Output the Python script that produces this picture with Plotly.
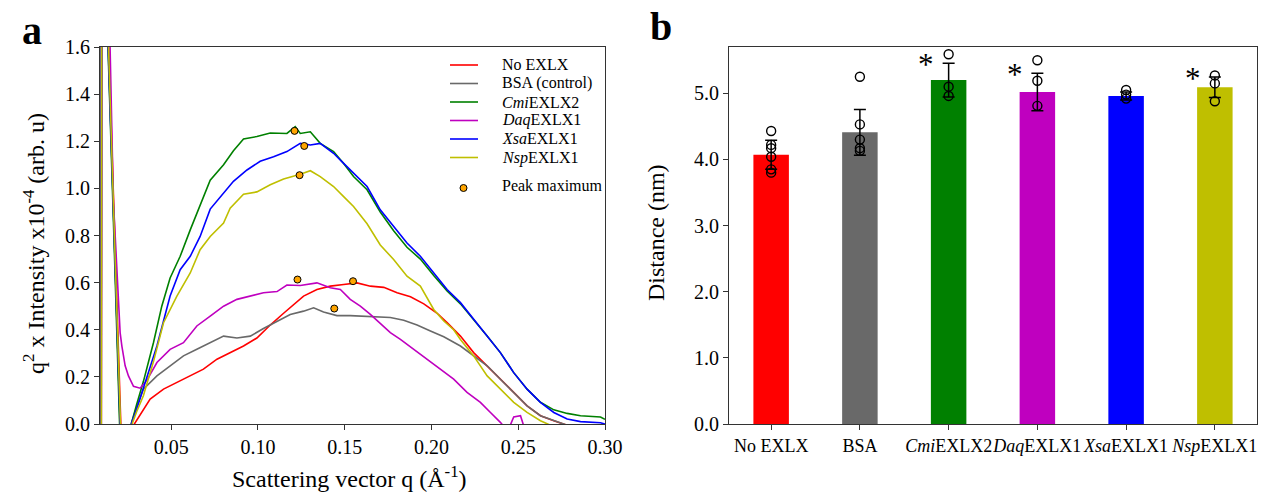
import plotly.graph_objects as go

# ---------------- Panel a data: (q, q^2 x Intensity x1e-4)
no_exlx = [(0.0097,-0.3),(0.0101,3.0),(0.0128,3.0),(0.0140,1.6),(0.0175,0.8),(0.0210,0.0),(0.0245,-0.05),
           (0.0280,-0.01),(0.0302,0.021),(0.0340,0.06),(0.0379,0.106),(0.0456,0.148),(0.0533,0.176),
           (0.0610,0.204),(0.0686,0.233),(0.0764,0.275),(0.0840,0.303),(0.0917,0.331),(0.0994,0.365),
           (0.1071,0.420),(0.1148,0.470),(0.1186,0.495),(0.1263,0.543),(0.1340,0.571),(0.1417,0.585),
           (0.1494,0.592),(0.1571,0.599),(0.1648,0.585),(0.1725,0.580),(0.1802,0.557),(0.1879,0.540),
           (0.1956,0.510),(0.2033,0.470),(0.2090,0.430),(0.2167,0.373),(0.2243,0.303),(0.2321,0.247),
           (0.2397,0.190),(0.2474,0.134),(0.2551,0.077),(0.2628,0.035),(0.2705,0.014),(0.2800,-0.01),
           (0.2900,-0.03),(0.3000,-0.05)]
bsa = [(0.0097,-0.3),(0.0101,3.0),(0.0128,3.0),(0.0138,1.6),(0.0172,0.8),(0.0205,0.0),(0.0240,-0.05),
       (0.0270,0.0),(0.0300,0.07),(0.0340,0.148),(0.0418,0.204),(0.0494,0.247),(0.0571,0.289),
       (0.0648,0.317),(0.0725,0.345),(0.0802,0.373),(0.0879,0.365),(0.0956,0.373),(0.1032,0.405),
       (0.1110,0.435),(0.1186,0.465),(0.1263,0.479),(0.1321,0.493),(0.1378,0.475),(0.1455,0.460),
       (0.1532,0.460),(0.1609,0.458),(0.1686,0.455),(0.1763,0.452),(0.1840,0.440),(0.1917,0.420),
       (0.1994,0.395),(0.2071,0.370),(0.2167,0.331),(0.2243,0.289),(0.2321,0.247),(0.2397,0.190),
       (0.2474,0.134),(0.2551,0.077),(0.2628,0.035),(0.2705,0.014),(0.2800,-0.01),(0.2900,-0.03),
       (0.3000,-0.05)]
cmi = [(0.0096,-0.3),(0.0100,3.0),(0.0126,3.0),(0.0136,1.6),(0.0170,0.8),(0.0203,0.0),(0.0235,-0.05),
       (0.0270,0.0),(0.0300,0.08),(0.0340,0.18),(0.0398,0.345),(0.0446,0.50),(0.0494,0.62),
       (0.0552,0.712),(0.0610,0.824),(0.0667,0.93),(0.0725,1.035),(0.0802,1.10),(0.0859,1.16),
       (0.0917,1.21),(0.0994,1.22),(0.1071,1.235),(0.1167,1.233),(0.1215,1.262),(0.1244,1.233),
       (0.1302,1.240),(0.1359,1.191),(0.1436,1.156),(0.1494,1.106),(0.1551,1.050),(0.1629,0.994),
       (0.1705,0.900),(0.1782,0.82),(0.1859,0.75),(0.1936,0.70),(0.2013,0.63),(0.2090,0.565),
       (0.2167,0.51),(0.2243,0.444),(0.2321,0.373),(0.2397,0.303),(0.2474,0.218),(0.2551,0.148),
       (0.2628,0.092),(0.2705,0.060),(0.2782,0.045),(0.2859,0.035),(0.2974,0.030),(0.3000,0.02)]
daq = [(0.0097,-0.3),(0.0101,3.0),(0.0135,3.0),(0.0148,1.6),(0.0167,0.95),(0.0187,0.67),(0.0206,0.388),
       (0.0216,0.331),(0.0235,0.247),(0.0254,0.204),(0.0283,0.160),(0.0321,0.152),(0.0360,0.185),
       (0.0418,0.261),(0.0494,0.317),(0.0571,0.345),(0.0648,0.416),(0.0725,0.458),(0.0802,0.500),
       (0.0879,0.529),(0.0956,0.543),(0.1032,0.557),(0.1110,0.562),(0.1167,0.590),(0.1244,0.588),
       (0.1340,0.599),(0.1417,0.578),(0.1475,0.571),(0.1532,0.529),(0.1590,0.500),(0.1648,0.465),
       (0.1725,0.416),(0.1763,0.388),(0.1821,0.359),(0.1897,0.317),(0.1975,0.275),(0.2051,0.233),
       (0.2128,0.190),(0.2205,0.134),(0.2282,0.092),(0.2340,0.049),(0.2397,0.007),(0.2440,-0.03),
       (0.2474,0.03),(0.2513,0.035),(0.2550,-0.05),(0.3000,-0.2)]
xsa = [(0.0096,-0.3),(0.0100,3.0),(0.0127,3.0),(0.0137,1.6),(0.0172,0.8),(0.0206,0.0),(0.0240,-0.05),
       (0.0270,0.0),(0.0300,0.06),(0.0340,0.15),(0.0418,0.331),(0.0494,0.543),(0.0552,0.655),
       (0.0610,0.712),(0.0667,0.796),(0.0725,0.912),(0.0783,0.965),(0.0859,1.03),(0.0937,1.078),
       (0.1013,1.115),(0.1090,1.134),(0.1167,1.156),(0.1244,1.191),(0.1302,1.184),(0.1359,1.191),
       (0.1436,1.149),(0.1494,1.106),(0.1551,1.064),(0.1629,1.008),(0.1705,0.909),(0.1782,0.839),
       (0.1859,0.768),(0.1936,0.712),(0.2013,0.641),(0.2090,0.571),(0.2167,0.515),(0.2243,0.444),
       (0.2321,0.373),(0.2397,0.303),(0.2474,0.218),(0.2551,0.148),(0.2628,0.092),(0.2705,0.049),
       (0.2782,0.021),(0.2859,0.01),(0.2974,0.005),(0.3000,0.0)]
nsp = [(0.0097,-0.3),(0.0101,3.0),(0.0128,3.0),(0.0139,1.6),(0.0173,0.8),(0.0208,0.0),(0.0240,-0.05),
       (0.0275,0.0),(0.0300,0.05),(0.0340,0.12),(0.0400,0.27),(0.0456,0.430),(0.0533,0.543),
       (0.0610,0.641),(0.0667,0.740),(0.0725,0.796),(0.0802,0.853),(0.0840,0.916),(0.0917,0.975),
       (0.0994,0.985),(0.1071,1.015),(0.1148,1.04),(0.1244,1.06),(0.1302,1.075),(0.1359,1.050),
       (0.1436,1.008),(0.1494,0.965),(0.1551,0.923),(0.1629,0.85),(0.1705,0.76),(0.1782,0.698),
       (0.1859,0.627),(0.1936,0.585),(0.2013,0.486),(0.2071,0.437),(0.2128,0.40),(0.2167,0.359),
       (0.2243,0.289),(0.2321,0.204),(0.2397,0.148),(0.2474,0.092),(0.2551,0.049),(0.2628,0.014),
       (0.2700,-0.01),(0.3000,-0.05)]

peak_q = [0.1211, 0.1267, 0.1240, 0.1228, 0.1548, 0.1440]
peak_i = [1.244, 1.180, 1.056, 0.613, 0.606, 0.490]

series_names = ["No EXLX", "BSA (control)", "<i>Cmi</i>EXLX2", "<i>Daq</i>EXLX1",
                "<i>Xsa</i>EXLX1", "<i>Nsp</i>EXLX1"]
series_data = [no_exlx, bsa, cmi, daq, xsa, nsp]
colors = ["#FF0000", "#696969", "#008000", "#BF00BF", "#0000FF", "#BFBF00"]

# ---------------- Panel b data
bar_labels = ["No EXLX", "BSA", "<i>Cmi</i>EXLX2", "<i>Daq</i>EXLX1", "<i>Xsa</i>EXLX1", "<i>Nsp</i>EXLX1"]
bar_means = [4.07, 4.41, 5.20, 5.02, 4.96, 5.09]
bar_sd = [0.22, 0.345, 0.255, 0.285, 0.06, 0.155]
replicates = [
    [4.43, 4.22, 4.17, 4.04, 3.85, 3.80],
    [5.25, 4.53, 4.30, 4.17, 4.13],
    [5.59, 5.10, 4.96],
    [5.50, 5.19, 4.81],
    [5.05, 4.98, 4.92],
    [5.27, 5.15, 4.88],
]
significant = [False, False, True, True, False, True]

# the page body margin is removed by a post script, so the figure fills the 1266x497 window
W, H = 1266, 497
FONT = "Liberation Serif"

def px(x):
    return x / W

def py(y):
    return 1 - y / H

fig = go.Figure()

for i in range(len(series_data)):
    d = series_data[i]
    fig.add_trace(go.Scatter(x=[p[0] for p in d], y=[p[1] for p in d], mode="lines",
                             line=dict(color=colors[i], width=1.6), name=series_names[i],
                             xaxis="x", yaxis="y", showlegend=False))
fig.add_trace(go.Scatter(x=peak_q, y=peak_i, mode="markers",
                         marker=dict(color="#FFA500", size=7, line=dict(color="black", width=1)),
                         xaxis="x", yaxis="y", showlegend=False, cliponaxis=False))

# panel b
idx = list(range(len(bar_labels)))
fig.add_trace(go.Bar(x=idx, y=bar_means, marker=dict(color=colors, line=dict(width=0)), width=0.4,
                     error_y=dict(type="data", array=bar_sd, color="black", thickness=1.5, width=6),
                     xaxis="x2", yaxis="y2", showlegend=False))
rx, ry = [], []
for i, reps in enumerate(replicates):
    for v in reps:
        rx.append(i)
        ry.append(v)
fig.add_trace(go.Scatter(x=rx, y=ry, mode="markers",
                         marker=dict(symbol="circle-open", size=9, color="black", line=dict(width=1.4)),
                         xaxis="x2", yaxis="y2", showlegend=False, cliponaxis=False))

ann = []
for i, s in enumerate(significant):
    if s:
        ann.append(dict(x=i - 0.25, y=bar_means[i] + bar_sd[i], xref="x2", yref="y2",
                        text="*", showarrow=False, font=dict(family=FONT, size=31, color="black"),
                        xanchor="center", yanchor="middle", yshift=-1))

# panel letters and axis titles
ann += [
    dict(x=px(32), y=py(31), xref="paper", yref="paper", text="<b>a</b>", showarrow=False,
         xanchor="center", yanchor="middle", font=dict(family=FONT, size=40, color="black")),
    dict(x=px(661), y=py(26), xref="paper", yref="paper", text="<b>b</b>", showarrow=False,
         xanchor="center", yanchor="middle", font=dict(family=FONT, size=40, color="black")),
    dict(x=px(349), y=py(477), xref="paper", yref="paper",
         text="Scattering vector q (Å<sup>-1</sup>)", showarrow=False,
         xanchor="center", yanchor="middle", font=dict(family=FONT, size=24, color="black")),
    dict(x=px(34), y=py(244), xref="paper", yref="paper", textangle=-90,
         text="q<sup>2</sup> x Intensity x10<sup>-4</sup> (arb. u)", showarrow=False,
         xanchor="center", yanchor="middle", font=dict(family=FONT, size=24, color="black")),
    dict(x=px(656), y=py(232), xref="paper", yref="paper", textangle=-90,
         text="Distance (nm)", showarrow=False,
         xanchor="center", yanchor="middle", font=dict(family=FONT, size=24, color="black")),
]

# manual legend (panel a)
shapes = []
leg_rows = [65, 83.5, 102, 120.5, 139, 157.5]
for i, yy in enumerate(leg_rows):
    shapes.append(dict(type="line", xref="paper", yref="paper", x0=px(450), x1=px(478),
                       y0=py(yy), y1=py(yy), line=dict(color=colors[i], width=1.6)))
    ann.append(dict(x=px(500), y=py(yy), xref="paper", yref="paper", text=series_names[i],
                    xanchor="left", yanchor="middle", showarrow=False,
                    font=dict(family=FONT, size=16, color="black")))
shapes.append(dict(type="circle", xref="paper", yref="paper", x0=px(460), x1=px(467),
                   y0=py(191.5), y1=py(184.5), fillcolor="#FFA500", line=dict(color="black", width=1)))
ann.append(dict(x=px(500), y=py(185), xref="paper", yref="paper", text="Peak maximum",
                xanchor="left", yanchor="middle", showarrow=False,
                font=dict(family=FONT, size=16, color="black")))

axis_common = dict(showline=True, linecolor="#333333", linewidth=1.2, mirror=True, ticks="outside",
                   ticklen=5, tickwidth=1.2, tickcolor="#333333", showgrid=False, zeroline=False,
                   automargin=False, tickangle=0,
                   tickfont=dict(family=FONT, size=20, color="black"))

xa_ticks = [0.05, 0.10, 0.15, 0.20, 0.25, 0.30]
ya_ticks = [0.0, 0.2, 0.4, 0.6, 0.8, 1.0, 1.2, 1.4, 1.6]
yb_ticks = [0.0, 1.0, 2.0, 3.0, 4.0, 5.0]

fig.update_layout(
    width=W, height=H, margin=dict(l=0, r=0, t=0, b=0, autoexpand=False),
    paper_bgcolor="white", plot_bgcolor="white",
    font=dict(family=FONT, color="black"),
    xaxis=dict(domain=[px(100), px(605)], range=[0.009, 0.30], tickvals=xa_ticks,
               ticktext=[f"{v:.2f}" for v in xa_ticks], anchor="y", **axis_common),
    yaxis=dict(domain=[py(424), py(47)], range=[0, 1.6], tickvals=ya_ticks,
               ticktext=[f"{v:.1f}" for v in ya_ticks], anchor="x", **axis_common),
    xaxis2=dict(domain=[px(729), px(1257)], range=[-0.475, 5.475], tickvals=idx, ticktext=bar_labels,
                anchor="y2", **{**axis_common, "tickfont": dict(family=FONT, size=18, color="black")}),
    yaxis2=dict(domain=[py(424), py(47)], range=[0, 5.7], tickvals=yb_ticks,
                ticktext=[f"{v:.1f}" for v in yb_ticks], anchor="x2", **axis_common),
    annotations=ann, shapes=shapes, showlegend=False,
)

fig.write_html("out.html",
               config={"displayModeBar": False},
               post_script="document.body.style.margin='0px';document.body.style.padding='0px';"
                           "document.body.style.overflow='hidden';")
